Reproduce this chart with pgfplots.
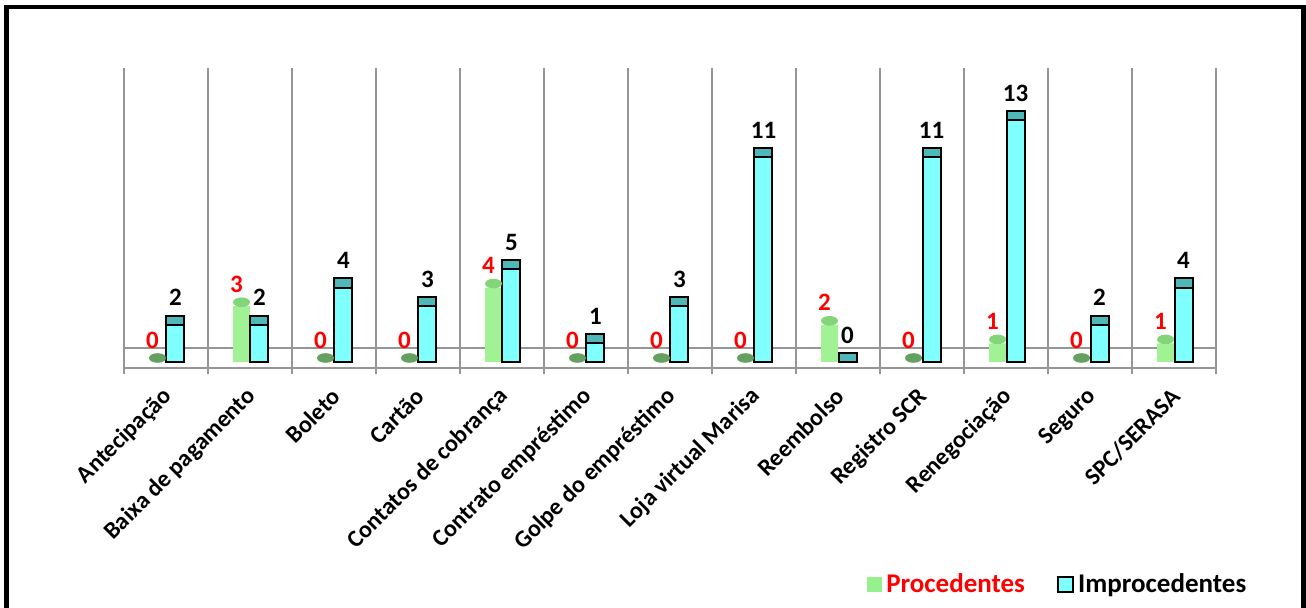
\documentclass[border=0pt]{standalone}
\usepackage{pgfplots}
\pgfplotsset{compat=1.18}
\usepackage{pgfplotstable}
\usepackage{fontspec}
\setmainfont{Carlito}

\definecolor{cyanbar}{RGB}{128,255,255}
\definecolor{capteal}{RGB}{78,184,184}
\definecolor{gridgray}{RGB}{150,150,150}
\definecolor{greenbody}{RGB}{160,242,148}
\definecolor{greentop}{RGB}{132,212,122}
\definecolor{greenzero}{RGB}{100,160,95}
\definecolor{legendgreen}{RGB}{150,240,140}

% top face of the 3D columns
\pgfdeclareplotmark{cap}{%
  \pgfpathrectangle{\pgfpoint{-4.5pt}{0pt}}{\pgfpoint{9pt}{4.6pt}}%
  \pgfusepathqfillstroke}
% top ellipse of the cylinders: darker when the cylinder is empty
\def\procval{1}
\pgfdeclareplotmark{cyltop}{%
  \ifdim\procval pt<0.5pt
    \pgfsetfillcolor{greenzero}%
  \else
    \pgfsetfillcolor{greentop}%
  \fi
  \pgfpathellipse{\pgfpoint{0pt}{2pt}}{\pgfpoint{4.25pt}{0pt}}{\pgfpoint{0pt}{2.4pt}}%
  \pgfusepathqfill}

\pgfplotstableread{
idx proc impr
0  0 2
1  3 2
2  0 4
3  0 3
4  4 5
5  0 1
6  0 3
7  0 11
8  2 0
9  0 11
10 1 13
11 0 2
12 1 4
}\complaints

\begin{document}
\begin{tikzpicture}
\useasboundingbox (-62pt,-120pt) rectangle (591pt,184pt);
\begin{axis}[
  at={(0pt,0pt)}, anchor=south west,
  scale only axis, width=546pt, height=150pt,
  xmin=-0.5, xmax=12.5, ymin=-0.3226, ymax=15.806,
  clip=false,
  axis line style={draw=none},
  /pgf/number format/assume math mode=true,
  xtick={0,...,12},
  xticklabels={Antecipação, Baixa de pagamento, Boleto, Cartão, Contatos de cobrança, Contrato empréstimo, Golpe do empréstimo, Loja virtual Marisa, Reembolso, Registro SCR, Renegociação, Seguro, SPC/SERASA},
  minor xtick={-0.5,0.5,...,12.5},
  xminorgrids,
  minor grid style={gridgray, line width=1pt},
  major grid style={gridgray, line width=1pt},
  major tick length=0pt, minor tick length=2.8pt,
  tick align=outside, tick pos=left,
  minor tick style={gridgray, line width=1pt},
  ytick=\empty,
  extra y ticks={-0.3226,0.7527},
  extra y tick labels={},
  extra y tick style={grid=major, major tick length=0pt},
  xticklabel style={xshift=3.5pt, yshift=-10pt, rotate=45, anchor=east,
    font=\fontsize{12}{14}\selectfont\bfseries},
  legend style={draw=none, fill=none, at={(0.856,-0.723)}, anchor=center,
    font=\fontsize{13.5}{15}\selectfont\bfseries,
    /tikz/every even column/.append style={column sep=14pt},
    legend columns=2},
  legend cell align=left,
]
% Procedentes: cylinders
\addplot[ybar, bar width=8.5pt, bar shift=0pt, draw=none, fill=greenbody,
  mark=cyltop,
  visualization depends on={\thisrow{proc} \as \procval},
  nodes near coords,
  every node near coord/.append style={text=red, anchor=center,
    xshift=-2.5pt, yshift=11pt, font=\fontsize{12.5}{14}\selectfont\bfseries},
  legend image code/.code={\fill[legendgreen] (0pt,-3.75pt) rectangle (7.5pt,3.75pt);}]
  table[x expr=\thisrow{idx}-0.101, y=proc] {\complaints};
\addlegendentry{\textcolor{red}{Procedentes}}
% Improcedentes: boxes with a top face
\addplot[ybar, bar width=9pt, bar shift=0pt, fill=cyanbar, draw=black, line width=1pt,
  mark=cap, mark options={fill=capteal, draw=black, line width=1pt},
  nodes near coords,
  every node near coord/.append style={text=black, anchor=center,
    yshift=13.5pt, font=\fontsize{12.5}{14}\selectfont\bfseries},
  legend image code/.code={\draw[fill=cyanbar, draw=black, line width=1pt] (0pt,-3.8pt) rectangle (7.6pt,3.8pt);}]
  table[x expr=\thisrow{idx}+0.113, y=impr] {\complaints};
\addlegendentry{Improcedentes}
\end{axis}
% chart frame
\draw[line width=2.4pt] (-58.75pt,-130pt) -- (-58.75pt,180.5pt) -- (589.75pt,180.5pt) -- (589.75pt,-130pt);
\end{tikzpicture}
\end{document}
